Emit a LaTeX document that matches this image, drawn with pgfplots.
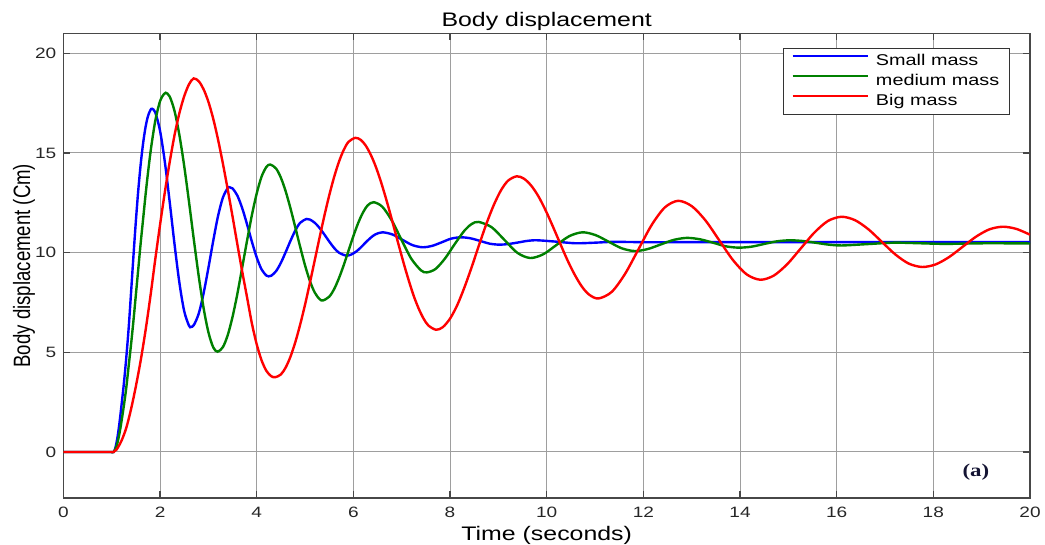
\documentclass[border=0pt]{standalone}
\usepackage{fontspec}
\setmainfont{Liberation Sans}[FakeStretch=1.27]
\newfontfamily\ylabfont{Liberation Sans}
\newfontfamily\tagfont{Liberation Serif}[FakeStretch=1.27]
\usepackage{pgfplots}
\pgfplotsset{compat=1.18}
\definecolor{mgreen}{rgb}{0,0.5,0}
\definecolor{tagcol}{rgb}{0.08,0.08,0.2}

\begin{document}
\begin{tikzpicture}
\begin{axis}[
  scale only axis, width=483.3pt, height=232.2pt,
  xmin=0, xmax=20, ymin=-2.3, ymax=21,
  xtick={0,2,...,20}, ytick={0,5,...,20},
  grid=major, grid style={black!38, line width=0.5pt},
  axis line style={black!72, line width=0.8pt},
  major tick length=3.5pt, tick style={black!72, line width=0.6pt},
  /pgf/number format/assume math mode=true,
  tick label style={font=\fontsize{7.5}{9}\selectfont, text=black!85},
  xticklabel style={anchor=base, yshift=-10pt},
  xlabel={Time (seconds)},
  xlabel style={at={(0.5,0)}, anchor=base, yshift=-21.5pt, font=\fontsize{9.8}{11}\selectfont},
  ylabel={Body displacement (Cm)},
  ylabel style={at={([xshift=-16.6pt]axis description cs:0,0.5)}, anchor=base, yscale=1.27,
    font=\ylabfont\fontsize{9.3}{11}\selectfont},
  legend style={at={(1,1)}, anchor=north east, xshift=-10pt, yshift=-7.2pt,
    draw=black!80, line width=0.5pt, inner xsep=3.8pt, inner ysep=1.5pt,
    row sep=0pt, column sep=2.3pt, font=\fontsize{7.8}{9}\selectfont,
    nodes={inner sep=1.3pt, text height=5.7pt, text depth=1.7pt}},
  legend cell align=left,
  legend image code/.code={\draw[#1] (0pt,2.7pt) -- (37.5pt,2.7pt);},
]
% small mass
\addplot[blue, line width=1.2pt, smooth] coordinates {
(0,0)(0.5,0)(0.95,0)(1.04,0)(1.08,0.25)(1.12,0.75)(1.16,1.45)(1.2,2.3)(1.25,3.4)(1.3,4.7)
(1.35,6.2)(1.4,8.0)(1.45,9.85)(1.5,11.6)(1.55,13.15)(1.6,14.45)(1.65,15.5)(1.7,16.3)
(1.75,16.85)(1.8,17.15)(1.834,17.22)(1.9,17.04)(2.0,16.11)(2.1,14.53)(2.2,12.53)(2.3,10.41)
(2.4,8.49)(2.5,7.06)(2.6,6.33)(2.64,6.27)(2.7,6.37)(2.8,6.94)(2.9,7.95)(3.0,9.23)(3.1,10.59)
(3.2,11.84)(3.3,12.76)(3.4,13.24)(3.44,13.28)(3.5,13.22)(3.6,12.86)(3.7,12.23)(3.8,11.42)
(3.9,10.55)(4.0,9.76)(4.1,9.16)(4.2,8.85)(4.246,8.81)(4.3,8.84)(4.4,9.07)(4.5,9.49)(4.6,10.03)
(4.7,10.60)(4.8,11.12)(4.9,11.50)(5.03,11.69)(5.1,11.66)(5.2,11.50)(5.3,11.24)(5.4,10.91)
(5.5,10.56)(5.6,10.24)(5.7,10.0)(5.85,9.85)(5.95,9.90)(6.05,10.04)(6.15,10.25)(6.25,10.50)
(6.35,10.73)(6.45,10.91)(6.6,11.02)(6.81,10.91)(7.01,10.65)(7.22,10.38)(7.43,10.27)
(7.63,10.34)(7.83,10.52)(8.02,10.70)(8.22,10.77)(8.42,10.72)(8.62,10.59)(8.82,10.45)
(9.02,10.40)(9.2,10.43)(9.41,10.51)(9.6,10.59)(9.8,10.62)(10.2,10.55)(10.6,10.47)
(11.0,10.50)(11.4,10.54)(12.2,10.52)(13,10.53)(16,10.53)(20,10.53)
};
\addlegendentry{Small mass}
% medium mass
\addplot[mgreen, line width=1.2pt, smooth] coordinates {
(0,0)(0.5,0)(0.95,0)(1.04,0)(1.1,0.3)(1.15,0.8)(1.2,1.5)(1.25,2.3)(1.3,3.2)(1.35,4.3)
(1.4,5.4)(1.45,6.6)(1.5,7.9)(1.55,9.2)(1.6,10.5)(1.65,11.7)(1.7,12.9)(1.75,14.0)(1.8,15.0)
(1.85,15.85)(1.9,16.6)(1.95,17.15)(2.0,17.6)(2.05,17.85)(2.116,18.02)(2.2,17.83)(2.3,17.10)
(2.4,15.90)(2.5,14.34)(2.6,12.53)(2.7,10.63)(2.8,8.82)(2.9,7.23)(3.0,6.01)(3.1,5.25)
(3.19,5.03)(3.3,5.26)(3.4,5.86)(3.5,6.78)(3.6,7.94)(3.7,9.26)(3.8,10.60)(3.9,11.88)
(4.0,12.97)(4.1,13.81)(4.2,14.30)(4.28,14.42)(4.4,14.22)(4.5,13.76)(4.6,13.07)(4.7,12.21)
(4.8,11.25)(4.9,10.28)(5.0,9.36)(5.1,8.58)(5.2,8.0)(5.3,7.67)(5.37,7.60)(5.5,7.79)
(5.6,8.16)(5.7,8.71)(5.8,9.37)(5.9,10.10)(6.0,10.83)(6.1,11.49)(6.2,12.02)(6.3,12.38)
(6.42,12.53)(6.6,12.30)(6.8,11.59)(7.0,10.62)(7.2,9.69)(7.4,9.11)(7.52,9.01)(7.7,9.18)
(7.9,9.72)(8.1,10.44)(8.3,11.11)(8.45,11.44)(8.59,11.54)(8.858,11.28)(9.125,10.64)
(9.393,9.99)(9.66,9.73)(9.93,9.92)(10.2,10.38)(10.47,10.83)(10.74,11.02)(11.01,10.88)
(11.28,10.55)(11.55,10.22)(11.82,10.08)(12.09,10.18)(12.36,10.41)(12.63,10.64)(12.9,10.74)
(13.17,10.67)(13.44,10.50)(13.70,10.32)(13.97,10.25)(14.24,10.30)(14.51,10.44)(14.77,10.57)
(15.04,10.62)(15.31,10.58)(15.58,10.49)(15.84,10.40)(16.11,10.36)(16.65,10.43)(17.19,10.50)
(17.73,10.47)(18.26,10.44)(19.1,10.47)(20,10.46)
};
\addlegendentry{medium mass}
% big mass
\addplot[red, line width=1.2pt, smooth] coordinates {
(0,0)(0.5,0)(0.95,0)(1.04,0)(1.1,0.12)(1.2,0.55)(1.3,1.2)(1.4,2.15)(1.5,3.3)(1.6,4.6)
(1.7,6.1)(1.8,7.8)(1.9,9.65)(2.0,11.4)(2.1,13.05)(2.2,14.55)(2.3,15.9)(2.4,17.0)(2.5,17.85)
(2.6,18.45)(2.695,18.74)(2.8,18.60)(2.9,18.20)(3.0,17.57)(3.1,16.72)(3.2,15.67)(3.3,14.47)
(3.4,13.17)(3.5,11.81)(3.6,10.41)(3.7,9.05)(3.8,7.76)(3.9,6.45)(4.0,5.4)(4.1,4.6)(4.2,4.07)
(4.3,3.8)(4.385,3.75)(4.5,3.89)(4.6,4.24)(4.7,4.79)(4.8,5.52)(4.9,6.40)(5.0,7.39)(5.1,8.48)
(5.2,9.61)(5.3,10.75)(5.4,11.85)(5.5,12.87)(5.6,13.78)(5.7,14.55)(5.8,15.15)(5.9,15.56)
(6.04,15.76)(6.15,15.66)(6.25,15.39)(6.35,14.96)(6.45,14.40)(6.55,13.71)(6.65,12.92)
(6.75,12.07)(6.85,11.17)(6.95,10.27)(7.05,9.39)(7.15,8.57)(7.25,7.82)(7.35,7.20)(7.45,6.70)
(7.55,6.35)(7.71,6.13)(7.85,6.26)(8.0,6.69)(8.15,7.37)(8.3,8.27)(8.45,9.29)(8.6,10.38)
(8.75,11.43)(8.9,12.36)(9.05,13.11)(9.2,13.61)(9.38,13.83)(9.53,13.71)(9.68,13.36)
(9.83,12.82)(9.98,12.11)(10.13,11.30)(10.28,10.45)(10.43,9.62)(10.58,8.89)(10.73,8.29)
(10.88,7.89)(11.07,7.70)(11.345,8.03)(11.62,8.93)(11.895,10.15)(12.17,11.38)(12.445,12.27)
(12.72,12.60)(13.003,12.33)(13.287,11.61)(13.57,10.62)(13.853,9.63)(14.137,8.91)(14.42,8.64)
(14.7,8.85)(14.98,9.43)(15.26,10.22)(15.54,11.01)(15.82,11.59)(16.1,11.80)(16.378,11.63)
(16.657,11.17)(16.935,10.54)(17.213,9.91)(17.492,9.45)(17.77,9.28)(18.048,9.41)(18.327,9.78)
(18.605,10.29)(18.883,10.80)(19.162,11.17)(19.44,11.30)(19.717,11.19)(20,10.90)
};
\addlegendentry{Big mass}
\node[font=\tagfont\bfseries\fontsize{9}{10}\selectfont, text=tagcol] at (axis cs:18.88,-1.0) {(a)};
\coordinate (bl) at (rel axis cs:0,0);
\coordinate (tr) at (rel axis cs:1,1);
\coordinate (tm) at (rel axis cs:0.5,1);
\end{axis}
\node[anchor=base, font=\fontsize{9.8}{11}\selectfont] at ([yshift=3.5pt]tm) {Body displacement};
\pgfresetboundingbox
\path[use as bounding box] ([shift={(-31.7pt,-23.2pt)}]bl) rectangle ([shift={(7.5pt,16.7pt)}]tr);
\end{tikzpicture}
\end{document}
